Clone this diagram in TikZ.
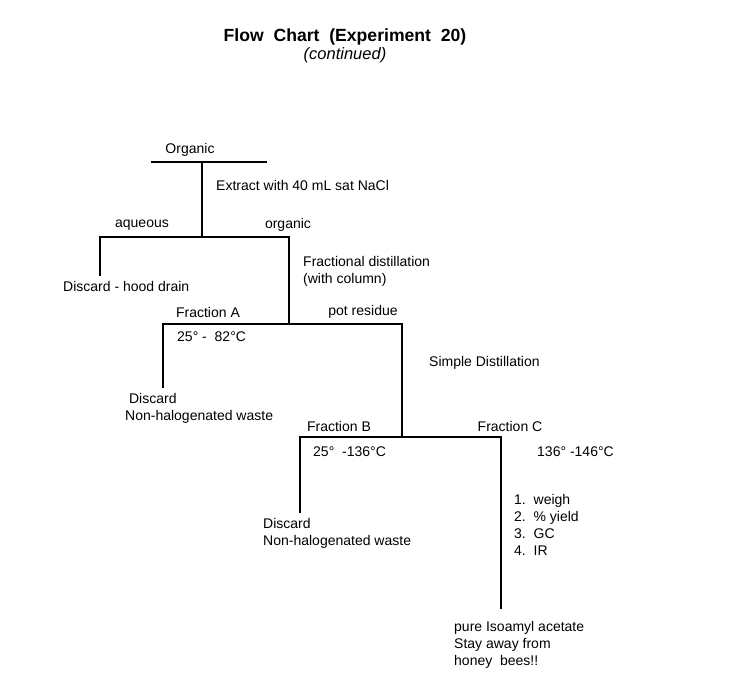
\documentclass[tikz,border=0pt]{standalone}
\usepackage{fontspec}
\setmainfont{Liberation Sans}
\begin{document}
\begin{tikzpicture}[x=1pt,y=-1pt,
  lbl/.style={inner sep=0pt, font=\fontsize{14}{17}\selectfont, align=left},
  wline/.style={line width=1.7pt, line cap=rect}]
\useasboundingbox (0,0) rectangle (736,693);
% title
\node[inner sep=0pt, font=\fontsize{17.6}{20}\selectfont\bfseries] (title) at (345,37) {Flow\ \ Chart\ \ (Experiment\ \ 20)};
\node[inner sep=0pt, font=\fontsize{16.5}{18}\selectfont\itshape] (cont) at (345,55) {(continued)};
% labels
\node[lbl] (organic0) at (190,150) {Organic};
\node[lbl, anchor=west] (extract) at (216,185) {Extract with 40 mL sat NaCl};
\node[lbl] (aq) at (142,225) {aqueous};
\node[lbl] (org) at (288,225) {organic};
\node[lbl, anchor=west] (hood) at (63,286) {Discard - hood drain};
\node[lbl, anchor=north west] (frac) at (303,256) {Fractional distillation\\(with column)};
\node[lbl] (fA) at (208,312) {Fraction A};
\node[lbl] (pot) at (363,312) {pot residue};
\node[lbl, anchor=west] (tA) at (177,337) {25° -\ \ 82°C};
\node[lbl, anchor=north west] (discA) at (125,393) {\ Discard\\Non-halogenated waste};
\node[lbl, anchor=west] (simple) at (429,363) {Simple Distillation};
\node[lbl] (fB) at (339,426) {Fraction B};
\node[lbl] (fC) at (510,426) {Fraction C};
\node[lbl, anchor=west] (tB) at (313,452) {25°\ \ -136°C};
\node[lbl, anchor=west] (tC) at (537,452) {136° -146°C};
\node[lbl, anchor=north west] (discB) at (263,518) {Discard\\Non-halogenated waste};
\node[lbl, anchor=north west] (list) at (514,494) {1.\ \ weigh\\2.\ \ \% yield\\3.\ \ GC\\4.\ \ IR};
\node[lbl, anchor=north west] (pure) at (454,621) {pure Isoamyl acetate\\Stay away from\\honey\ \ bees!!};
% tree coordinates
\coordinate (l0a) at (152,162);
\coordinate (l0b) at (266,162);
\coordinate (j0) at (202,162);
\coordinate (j1) at (202,237);
\coordinate (h1a) at (100,237);
\coordinate (h1b) at (289,237);
\coordinate (e1) at (100,275);
\coordinate (j2) at (289,324);
\coordinate (h2a) at (163,324);
\coordinate (h2b) at (402,324);
\coordinate (e2) at (163,387);
\coordinate (j3) at (402,437);
\coordinate (h3a) at (300,437);
\coordinate (h3b) at (501,437);
\coordinate (e3) at (300,512);
\coordinate (e4) at (501,608);
% lines
\draw[wline] (l0a) -- (l0b);
\draw[wline] (j0) -- (j1);
\draw[wline] (e1) -- (h1a) -- (h1b) -- (j2);
\draw[wline] (e2) -- (h2a) -- (h2b) -- (j3);
\draw[wline] (e3) -- (h3a) -- (h3b) -- (e4);
\end{tikzpicture}
\end{document}
